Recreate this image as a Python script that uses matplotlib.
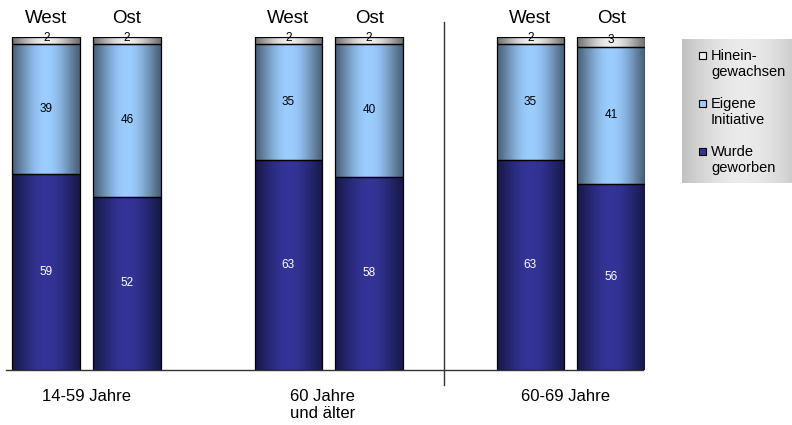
import numpy as np
import matplotlib
matplotlib.use("Agg")
import matplotlib.pyplot as plt
from matplotlib.patches import Rectangle
from matplotlib.colors import to_rgb

plt.rcParams["font.family"] = ["Liberation Sans", "DejaVu Sans"]

# data
regions = ["West", "Ost", "West", "Ost", "West", "Ost"]
groups = ["14-59 Jahre", "60 Jahre\nund älter", "60-69 Jahre"]
wurde = [59, 52, 63, 58, 63, 56]
eigene = [39, 46, 35, 40, 35, 41]
hinein = [2, 2, 2, 2, 2, 3]

positions = [0, 1, 3, 4, 6, 7]
bar_w = 0.84

series = [
    ("Wurde\ngeworben", wurde, "#343499", "white"),
    ("Eigene\nInitiative", eigene, "#9ccdff", "black"),
    ("Hinein-\ngewachsen", hinein, "#eeeeee", "black"),
]


def shade_strip(color, n=80):
    # cylinder-like horizontal shading: dark edges, bright near centre
    t = np.linspace(0, 1, n)
    prof = np.sin(np.pi * t) ** 1.2
    k = 0.48 + 0.52 * prof
    rgb = np.array(to_rgb(color))
    return (rgb[None, :] * k[:, None])[None, :, :]


fig = plt.figure(figsize=(7.92, 4.25), dpi=100)
ax = fig.add_axes([6 / 792, 55 / 425, 639 / 792, 333 / 425])
ax.set_xlim(-0.5, 7.42)
ax.set_ylim(0, 100)
ax.axis("off")

bottom = np.zeros(len(positions))
for name, vals, col, tcol in series:
    bars = ax.bar(positions, vals, bar_w, bottom=bottom, facecolor="none",
                  edgecolor="black", linewidth=0.9, zorder=3)
    strip = shade_strip(col)
    for b, x, v, b0 in zip(bars, positions, vals, bottom):
        im = ax.imshow(strip, extent=[x - bar_w / 2, x + bar_w / 2, b0, b0 + v],
                       aspect="auto", zorder=2, interpolation="bilinear")
        im.set_clip_path(b)
        ax.text(x, b0 + v / 2 + (0.6 if v < 5 else 0), str(v), ha="center",
                va="center", fontsize=8.5, color=tcol, zorder=4)
    bottom += np.array(vals)

# baseline and separator
ax.plot([-0.5, 7.4], [0, 0], color="#333333", lw=1, clip_on=False, zorder=5)
ax.plot([4.93, 4.93], [-4.5, 104.5], color="#333333", lw=1, clip_on=False)

for x, r in zip(positions, regions):
    ax.text(x, 105.7, r, ha="center", va="center", fontsize=13.5)

group_x = [0.5, 3.42, 6.43]
for gx, g in zip(group_x, groups):
    ax.text(gx, -5.6, g, ha="center", va="top", fontsize=12,
            linespacing=1.2)

# legend box with grey shading
lax = fig.add_axes([682 / 792, (425 - 183) / 425, 110 / 792, 144 / 425])
t = np.linspace(0, 1, 64)
g = 0.76 + 0.16 * np.sin(np.pi * np.clip(t * 0.9, 0, 1))
lax.imshow(np.dstack([g, g, g]), extent=[0, 110, 144, 0], aspect="auto")
lax.set_xlim(0, 110)
lax.set_ylim(144, 0)
lax.axis("off")
for i, (name, _, col, _) in enumerate(series[::-1]):
    yc = 16 + i * 48
    lax.add_patch(Rectangle((17, yc - 3.5), 7, 7, facecolor=col,
                            edgecolor="black", linewidth=0.8))
    lax.text(29, yc + 9, name, ha="left", va="center", fontsize=10.5,
             linespacing=1.26)

fig.savefig("out.png", dpi=100)
